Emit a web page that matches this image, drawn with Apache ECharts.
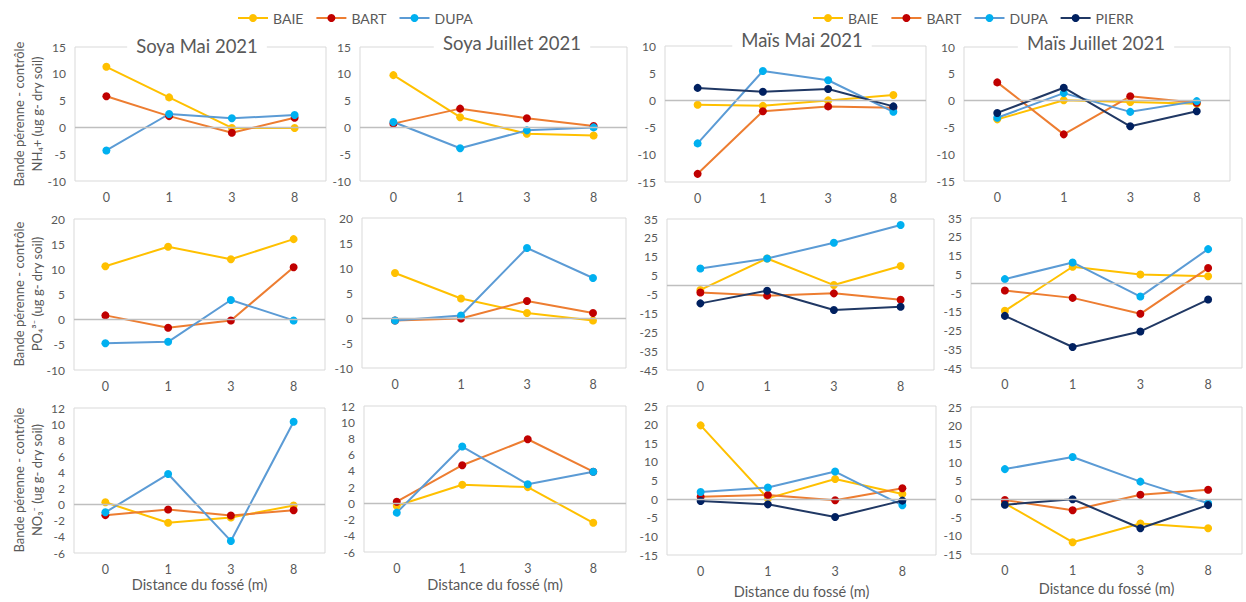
<!DOCTYPE html>
<html>
<head>
<meta charset="utf-8">
<script src="https://cdn.jsdelivr.net/npm/echarts@6/dist/echarts.min.js"></script>
<style>
html,body{margin:0;padding:0;background:#fff;}
#chart{width:1246px;height:602px;}
</style>
</head>
<body>
<div id="chart"></div>
<script>
// ---------- data ----------
const categories = ['0', '1', '3', '8'];
const stations = ['BAIE', 'BART', 'DUPA', 'PIERR'];
const panelTitles = ['Soya Mai 2021', 'Soya Juillet 2021', 'Maïs Mai 2021', 'Maïs Juillet 2021'];
const yTitleLine1 = 'Bande pérenne - contrôle';
const yTitleLine2 = ['NH₄+ (ug g- dry soil)', 'PO₄³⁻ (ug g- dry soil)', 'NO₃⁻ (ug g- dry soil)'];
const xTitle = 'Distance du fossé (m)';

// NH4+
const nh4SoyaMai = { BAIE: [11.3, 5.6, -0.1, -0.1], BART: [5.8, 2.1, -1.0, 1.8], DUPA: [-4.3, 2.5, 1.7, 2.3] };
const nh4SoyaJuillet = { BAIE: [9.75, 1.9, -1.2, -1.5], BART: [0.7, 3.5, 1.7, 0.25], DUPA: [1.0, -3.9, -0.55, 0] };
const nh4MaisMai = { BAIE: [-0.8, -1.0, 0, 1.0], BART: [-13.5, -2.0, -1.1, -1.35], DUPA: [-7.9, 5.4, 3.7, -2.1], PIERR: [2.3, 1.6, 2.1, -1.1] };
const nh4MaisJuillet = { BAIE: [-3.5, 0.05, -0.25, -0.6], BART: [3.4, -6.3, 0.8, -0.4], DUPA: [-3.2, 1.4, -2.1, -0.1], PIERR: [-2.3, 2.4, -4.8, -2.0] };
// PO4 3-
const po4SoyaMai = { BAIE: [10.6, 14.5, 12.0, 16.0], BART: [0.85, -1.6, -0.15, 10.4], DUPA: [-4.7, -4.4, 3.9, -0.15] };
const po4SoyaJuillet = { BAIE: [9.0, 3.9, 1.0, -0.5], BART: [-0.5, -0.1, 3.4, 1.0], DUPA: [-0.5, 0.5, 14.0, 8.0] };
const po4MaisMai = { BAIE: [-2.6, 14.1, 0, 10.1], BART: [-3.9, -5.6, -4.4, -7.8], DUPA: [8.8, 14.1, 22.4, 31.8], PIERR: [-9.7, -3.0, -13.2, -11.5] };
const po4MaisJuillet = { BAIE: [-14.5, 9.0, 4.9, 3.9], BART: [-3.7, -7.6, -16.1, 8.3], DUPA: [2.4, 11.3, -6.9, 18.4], PIERR: [-17.2, -33.8, -25.5, -8.5] };
// NO3-
const no3SoyaMai = { BAIE: [0.3, -2.25, -1.6, -0.1], BART: [-1.3, -0.6, -1.35, -0.7], DUPA: [-0.95, 3.8, -4.5, 10.3] };
const no3SoyaJuillet = { BAIE: [-0.3, 2.3, 2.0, -2.4], BART: [0.2, 4.7, 7.9, 3.9], DUPA: [-1.15, 7.0, 2.35, 3.9] };
const no3MaisMai = { BAIE: [19.8, 0.2, 5.4, 1.4], BART: [0.65, 1.1, -0.3, 2.9], DUPA: [1.9, 3.1, 7.4, -1.65], PIERR: [-0.5, -1.4, -4.8, -0.4] };
const no3MaisJuillet = { BAIE: [-1.2, -11.8, -6.7, -8.0], BART: [-0.3, -3.1, 1.1, 2.5], DUPA: [8.1, 11.4, 4.7, -1.2], PIERR: [-1.6, -0.1, -8.0, -1.7] };

// y-axis tick labels: [min, max, step between printed labels]
const yTicksNH4Soya = [-10, 15, 5];
const yTicksNH4Mais = [-15, 10, 5];
const yTicksPO4Soya = [-10, 20, 5];
const yTicksPO4Mais = [-45, 35, 10];
const yTicksNO3Soya = [-6, 12, 2];
const yTicksNO3Mais = [-15, 25, 5];

const panelData = [nh4SoyaMai, nh4SoyaJuillet, nh4MaisMai, nh4MaisJuillet,
                   po4SoyaMai, po4SoyaJuillet, po4MaisMai, po4MaisJuillet,
                   no3SoyaMai, no3SoyaJuillet, no3MaisMai, no3MaisJuillet];
const panelTicks = [yTicksNH4Soya, yTicksNH4Soya, yTicksNH4Mais, yTicksNH4Mais,
                    yTicksPO4Soya, yTicksPO4Soya, yTicksPO4Mais, yTicksPO4Mais,
                    yTicksNO3Soya, yTicksNO3Soya, yTicksNO3Mais, yTicksNO3Mais];

// ---------- layout / style ----------
const FONT = 'Lato, "Open Sans", sans-serif';
const TXT = '#595959';
const styles = {
  BAIE:  { line: '#FFC000', mark: '#FFC000' },
  BART:  { line: '#ED7D31', mark: '#C00000' },
  DUPA:  { line: '#5B9BD5', mark: '#00B0F0' },
  PIERR: { line: '#203864', mark: '#002060' }
};
const gridBoxes = [
  { left: 75,  top: 47,  width: 251, height: 134 },
  { left: 360, top: 47,  width: 267, height: 134 },
  { left: 665, top: 46,  width: 261, height: 136 },
  { left: 964, top: 47,  width: 266, height: 134 },
  { left: 74,  top: 219, width: 251, height: 151 },
  { left: 362, top: 218, width: 264, height: 150 },
  { left: 667, top: 219, width: 267, height: 151 },
  { left: 971, top: 218, width: 271, height: 150 },
  { left: 74,  top: 408, width: 251, height: 145 },
  { left: 364, top: 406, width: 262, height: 146 },
  { left: 667, top: 406, width: 269, height: 149 },
  { left: 971, top: 407, width: 271, height: 147 }
];
const xNameGaps = [24, 25, 29, 27];

const grid = [], xAxis = [], yAxis = [], series = [];
gridBoxes.forEach((b, i) => {
  grid.push(Object.assign({ show: true, borderColor: '#d9d9d9', borderWidth: 1, backgroundColor: 'transparent' }, b));
  const row = Math.floor(i / 4), col = i % 4;
  xAxis.push({
    type: 'category', gridIndex: i, data: categories, boundaryGap: true,
    axisLine: { show: false, onZero: false }, axisTick: { show: false },
    axisLabel: { color: TXT, fontSize: 12.5, fontFamily: FONT, margin: 10 },
    name: row === 2 ? xTitle : '', nameLocation: 'middle', nameGap: xNameGaps[col],
    nameTextStyle: { color: TXT, fontSize: 14.5, fontFamily: FONT }
  });
  const t = panelTicks[i];
  yAxis.push({
    type: 'value', gridIndex: i, min: t[0], max: t[1], interval: 1,
    axisLine: { show: false }, axisTick: { show: false }, splitLine: { show: false },
    axisLabel: {
      color: TXT, fontSize: 12, fontFamily: FONT, margin: 9,
      formatter: v => (Math.abs(((v - t[0]) % t[2])) < 1e-9 ? String(v) : '')
    }
  });
  const d = panelData[i];
  let first = true;
  stations.forEach(s => {
    if (!d[s]) return;
    const ser = {
      type: 'line', name: s, xAxisIndex: i, yAxisIndex: i, data: d[s],
      symbol: 'circle', symbolSize: 8, showSymbol: true,
      lineStyle: { color: styles[s].line, width: 2 },
      itemStyle: { color: styles[s].mark },
      emphasis: { disabled: true }, animation: false, z: 3
    };
    if (first) {
      ser.markLine = {
        silent: true, symbol: 'none', animation: false,
        label: { show: false },
        lineStyle: { color: '#bfbfbf', type: 'solid', width: 1.3 },
        data: [{ yAxis: 0 }]
      };
      first = false;
    }
    series.push(ser);
  });
});

// titles and y-axis names as text
const graphic = [];
const titlePos = [[197, 46], [512, 43], [802, 40], [1096, 43]];
panelTitles.forEach((tt, i) => {
  graphic.push({
    type: 'text', x: titlePos[i][0], y: titlePos[i][1], z: 10,
    style: {
      text: tt, textAlign: 'center', textVerticalAlign: 'middle',
      fill: TXT, fontSize: 18.5, fontFamily: FONT,
      backgroundColor: '#fff', padding: [2, 9, 2, 9]
    }
  });
});
const rowCenters = [114, 294, 480];
yTitleLine2.forEach((l2, r) => {
  graphic.push({
    type: 'text', x: 28, y: rowCenters[r], rotation: Math.PI / 2, z: 10,
    style: {
      text: yTitleLine1 + '\n' + l2, textAlign: 'center', textVerticalAlign: 'middle',
      fill: TXT, fontSize: 13, fontFamily: FONT, lineHeight: 18
    }
  });
});

const legendBase = {
  top: 6, itemWidth: 30, itemHeight: 10, itemGap: 12,
  textStyle: { color: TXT, fontSize: 14, fontFamily: FONT },
  selectedMode: false
};

const chart = echarts.init(document.getElementById('chart'), null, { renderer: 'svg' });
chart.setOption({
  animation: false,
  backgroundColor: '#fff',
  legend: [
    Object.assign({ left: 232, data: ['BAIE', 'BART', 'DUPA'] }, legendBase),
    Object.assign({ left: 807, data: ['BAIE', 'BART', 'DUPA', 'PIERR'] }, legendBase)
  ],
  grid, xAxis, yAxis, series, graphic
});
</script>
</body>
</html>
